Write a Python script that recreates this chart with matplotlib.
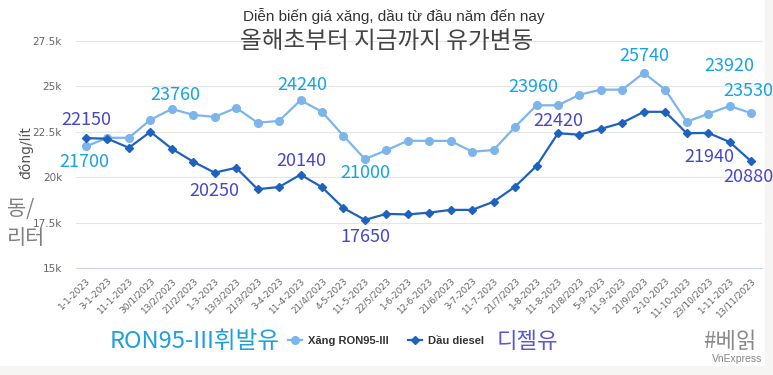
import matplotlib
matplotlib.use('Agg')
import matplotlib.pyplot as plt
from matplotlib.patches import Rectangle


# dữ liệu giá xăng dầu 2023 (đồng/lít)
dates = ['1-1-2023', '3-1-2023', '11-1-2023', '30/1/2023', '13/2/2023', '21/2/2023',
         '1-3-2023', '13/3/2023', '21/3/2023', '3-4-2023', '11-4-2023', '21/4/2023',
         '4-5-2023', '11-5-2023', '22/5/2023', '1-6-2023', '12-6-2023', '21/6/2023',
         '3-7-2023', '11-7-2023', '21/7/2023', '1-8-2023', '11-8-2023', '21/8/2023',
         '5-9-2023', '11-9-2023', '21/9/2023', '2-10-2023', '11-10-2023', '23/10/2023',
         '1-11-2023', '13/11/2023']
ron95 = [21700, 22170, 22170, 23160, 23760, 23430, 23320, 23820, 23000, 23100,
         24240, 23600, 22280, 21000, 21480, 22010, 22000, 22000, 21400, 21500,
         22770, 23960, 23960, 24540, 24820, 24820, 25740, 24820, 23050, 23490,
         23920, 23530]
diesel = [22150, 22120, 21620, 22500, 21570, 20850, 20250, 20520, 19340, 19460,
          20140, 19450, 18300, 17650, 17980, 17950, 18050, 18200, 18200, 18650,
          19480, 20620, 22420, 22340, 22660, 23000, 23600, 23600, 22420, 22440,
          21940, 20880]
y_ticks = [15000, 17500, 20000, 22500, 25000, 27500]
y_tick_labels = ['15k', '17.5k', '20k', '22.5k', '25k', '27.5k']

# nhãn giá: (chỉ số điểm, dx px, dy px)
ron_labels = [(0, -2, -16), (4, 4, 14), (10, 2, 15), (13, 0, -14), (21, -3, 18),
              (26, 1, 17), (30, 0, 40), (31, -3, 22)]
diesel_labels = [(0, 0, 18), (6, 0, -18), (10, 1, 14), (13, 0, -17), (22, 0, 12),
                 (30, -20, -15), (31, -3, -16)]

ron_color = '#7cb5ec'
diesel_color = '#1e62c0'
ron_text = '#16a3e6'
diesel_text = '#4747c9'
kfont = ['Noto Sans CJK KR', 'DejaVu Sans']

fig = plt.figure(figsize=(7.73, 3.75), dpi=100)
fig.patches.append(Rectangle((0, 0), 1, 9 / 375, transform=fig.transFigure,
                             color='#f6f5f3', zorder=-5))
fig.patches.append(Rectangle((765 / 773, 0), 8 / 773, 1, transform=fig.transFigure,
                             color='#f6f5f3', zorder=-5))

ax = fig.add_axes([76 / 773, 1 - 268 / 375, 686 / 773, 227 / 375])
ax.patch.set_alpha(0)
x = list(range(len(dates)))
l1, = ax.plot(x, ron95, color=ron_color, lw=1.6, marker='o', ms=5.5,
              label='Xăng RON95-III', zorder=3)
l2, = ax.plot(x, diesel, color=diesel_color, lw=1.6, marker='D', ms=4,
              label='Dầu diesel', zorder=4)

for i, dx, dy in ron_labels:
    ax.annotate(str(ron95[i]), (x[i], ron95[i]), xytext=(dx * 0.72, dy * 0.72),
                textcoords='offset points', ha='center', va='center',
                fontsize=13, color=ron_text, family=kfont, zorder=5)
for i, dx, dy in diesel_labels:
    ax.annotate(str(diesel[i]), (x[i], diesel[i]), xytext=(dx * 0.72, dy * 0.72),
                textcoords='offset points', ha='center', va='center',
                fontsize=13, color=diesel_text, family=kfont, zorder=5)

ax.set_xlim(-0.466, 31.51)
ax.set_ylim(15000, 27500)
ax.set_yticks(y_ticks)
ax.set_yticklabels(y_tick_labels, fontsize=7.5, color='#666666')
ax.set_xticks(x)
ax.set_xticklabels(dates, rotation=45, ha='right', rotation_mode='anchor',
                   fontsize=6.5, color='#666666')
ax.tick_params(axis='both', length=0)
ax.tick_params(axis='y', pad=10)
ax.tick_params(axis='x', pad=6)
ax.grid(axis='y', color='#e6e6e6', lw=0.8)
ax.set_axisbelow(True)
for s in ['top', 'right', 'left']:
    ax.spines[s].set_visible(False)
ax.spines['bottom'].set_color('#ccd6eb')
ax.spines['bottom'].set_linewidth(0.8)

ax.set_ylabel('đồng/lít', fontsize=10, color='#555555')
ax.yaxis.set_label_coords(-0.0626, 0.507)

fig.text(394 / 773, 1 - 16 / 375, 'Diễn biến giá xăng, dầu từ đầu năm đến nay',
         ha='center', va='center', fontsize=11, color='#333333',
         family='Liberation Sans')
fig.text(387 / 773, 1 - 42 / 375, '올해초부터 지금까지 유가변동', ha='center',
         va='center', fontsize=17, color='#444444', family=kfont)
fig.text(7 / 773, 1 - 209 / 375, '동/', ha='left', va='center', fontsize=15,
         color='#808080', family=kfont)
fig.text(7 / 773, 1 - 238 / 375, '리터', ha='left', va='center', fontsize=15,
         color='#808080', family=kfont)

ax.legend(handles=[l1, l2], loc='center', bbox_to_anchor=(386 / 773, 1 - 341 / 375),
          bbox_transform=fig.transFigure, ncol=2, frameon=False,
          prop={'family': 'Liberation Sans', 'weight': 'bold', 'size': 8},
          handlelength=1.2, handletextpad=0.55, columnspacing=1.8, labelcolor='#333333')

fig.text(280 / 773, 1 - 341 / 375, 'RON95-III휘발유', ha='right', va='center',
         fontsize=17, color='#1ba1e2', family=kfont)
fig.text(497 / 773, 1 - 342 / 375, '디젤유', ha='left', va='center',
         fontsize=16, color='#5a5ad0', family=kfont)
fig.text(757 / 773, 1 - 342 / 375, '#베읽', ha='right', va='center',
         fontsize=16, color='#8a8a8a', family=kfont)
fig.text(762 / 773, 1 - 359 / 375, 'VnExpress', ha='right', va='center',
         fontsize=7.5, color='#888888', family='Liberation Sans')

plt.savefig('out.png', dpi=100)
